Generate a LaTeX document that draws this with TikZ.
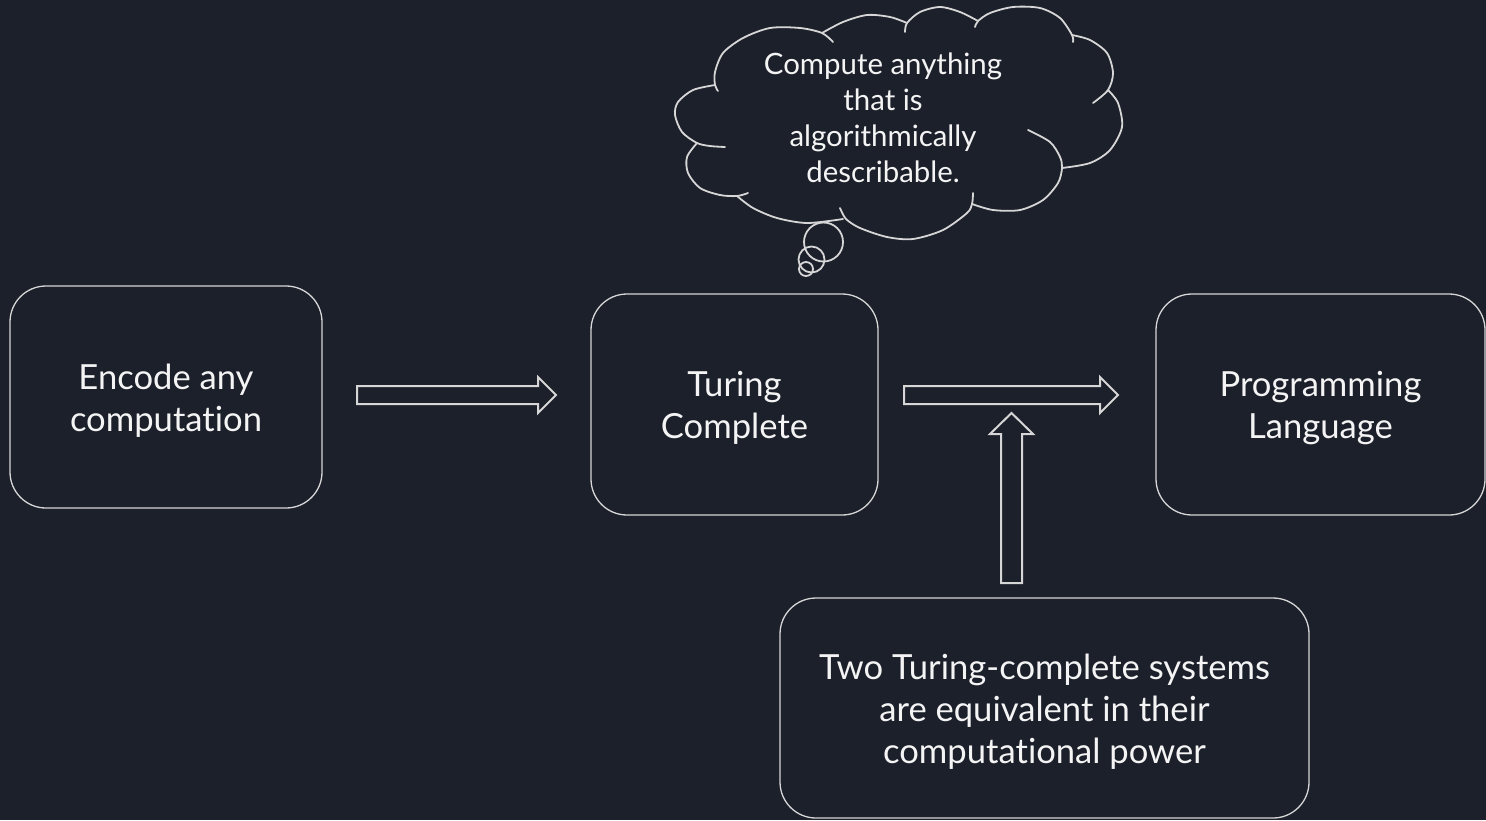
\documentclass[tikz,border=0pt]{standalone}
\usepackage{fontspec}
\setmainfont{Lato}[Ligatures=NoCommon]
\definecolor{bgColor}{RGB}{28,32,43}
\definecolor{lineColor}{RGB}{214,214,214}
\definecolor{textColor}{RGB}{244,244,244}
\newcommand{\boxFont}{\fontsize{17.3pt}{21pt}\selectfont}
\newcommand{\cloudFont}{\fontsize{14.7pt}{18pt}\selectfont}
\newcommand{\lineStrut}{\rule[-0.213em]{0pt}{1.2em}}
\newcommand{\boxLines}[1]{\lineStrut#1\lineStrut}
\tikzstyle{canvas} = [x = 0.5pt, y = -0.5pt]
\tikzstyle{boxStyle} = [draw=lineColor, line width=.65pt, rounded corners=18pt, text=textColor, align=center, inner sep=0pt, font=\boxFont]
\tikzstyle{blockArrowStyle} = [draw=lineColor, line width=1pt, line join=miter]
\tikzstyle{cloudLine} = [draw=lineColor, line width=.9pt, line cap=round]
\tikzstyle{cloudText} = [text=textColor, align=center, inner sep=0pt, font=\cloudFont]
\newcommand{\shaftHalf}{9}
\newcommand{\headHalf}{18}
\newcommand{\headLength}{18}
\newcommand{\vShaftHalf}{10.5}
\newcommand{\vHeadHalf}{21.5}
\newcommand{\vHeadLength}{21}
\newcommand{\rightBlockArrow}[3]{\draw [blockArrowStyle] (#1, #3 - \shaftHalf) -- (#2 - \headLength, #3 - \shaftHalf) -- (#2 - \headLength, #3 - \headHalf) -- (#2, #3) -- (#2 - \headLength, #3 + \headHalf) -- (#2 - \headLength, #3 + \shaftHalf) -- (#1, #3 + \shaftHalf) -- cycle;}
\newcommand{\upBlockArrow}[3]{\draw [blockArrowStyle] (#1 - \vShaftHalf, #2) -- (#1 - \vShaftHalf, #3 + \vHeadLength) -- (#1 - \vHeadHalf, #3 + \vHeadLength) -- (#1, #3) -- (#1 + \vHeadHalf, #3 + \vHeadLength) -- (#1 + \vShaftHalf, #3 + \vHeadLength) -- (#1 + \vShaftHalf, #2) -- cycle;}
\newcommand{\cloudBump}[1]{\draw [cloudLine] plot [smooth] coordinates {#1};}

\begin{document}
\begin{tikzpicture}[canvas]
  \fill [bgColor] (0,0) rectangle (1486,820);
  \useasboundingbox (0,0) rectangle (1486,820);
  % boxes
  \node [boxStyle, minimum width=156pt, minimum height=111pt] (encodeBox) at (166,397) {\boxLines{Encode any\\computation}};
  \node [boxStyle, minimum width=143.5pt, minimum height=110.5pt] (turingBox) at (734.5,404.5) {\boxLines{Turing\\Complete}};
  \node [boxStyle, minimum width=164.5pt, minimum height=110.5pt] (languageBox) at (1320.5,404.5) {\boxLines{Programming\\Language}};
  \node [boxStyle, minimum width=264.5pt, minimum height=110pt] (powerBox) at (1044.5,708) {\boxLines{Two Turing-complete systems\\are equivalent in their\\computational power}};
  % block arrows
  \rightBlockArrow{357}{556}{395}
  \rightBlockArrow{904}{1118}{395}
  \upBlockArrow{1011.5}{583}{413}
  % thought cloud
  \cloudBump{(833,42) (822,33) (800,28) (770,28) (743,38) (723,53) (715,72) (715,85) (718,91)}
  \cloudBump{(715,85) (693,90) (678,102) (675,115) (682,132) (697,143) (710,146) (725,147)}
  \cloudBump{(697,143) (687,157) (688,173) (700,188) (720,195) (737,196) (748,193)}
  \cloudBump{(737,196) (753,208) (777,218) (807,223) (843,219)}
  \cloudBump{(840,208) (846,219) (860,228) (887,237) (913,239) (943,230) (967,213) (972,204) (973,193)}
  \cloudBump{(972,204) (993,210) (1020,210) (1043,200) (1058,183) (1062,168) (1060,157) (1050,142) (1028,130)}
  \cloudBump{(1062,168) (1090,163) (1110,150) (1122,127) (1118,103) (1108,90)}
  \cloudBump{(1093,103) (1108,90) (1113,73) (1107,53) (1090,40) (1072,35)}
  \cloudBump{(1073,42) (1072,35) (1060,18) (1040,8) (1013,7) (990,13) (978,21) (975,27)}
  \cloudBump{(978,21) (960,12) (940,7) (920,12) (907,23) (905,32)}
  \cloudBump{(907,23) (890,17) (867,15) (843,22) (822,33)}
  \draw [cloudLine] (823.5,242) circle (9.75pt);
  \draw [cloudLine] (811.5,259.5) circle (6.5pt);
  \draw [cloudLine] (806,269) circle (3.5pt);
  \node [cloudText] (cloudLabel) at (883,118) {Compute anything\\that is\\algorithmically\\describable.};
\end{tikzpicture}
\end{document}
